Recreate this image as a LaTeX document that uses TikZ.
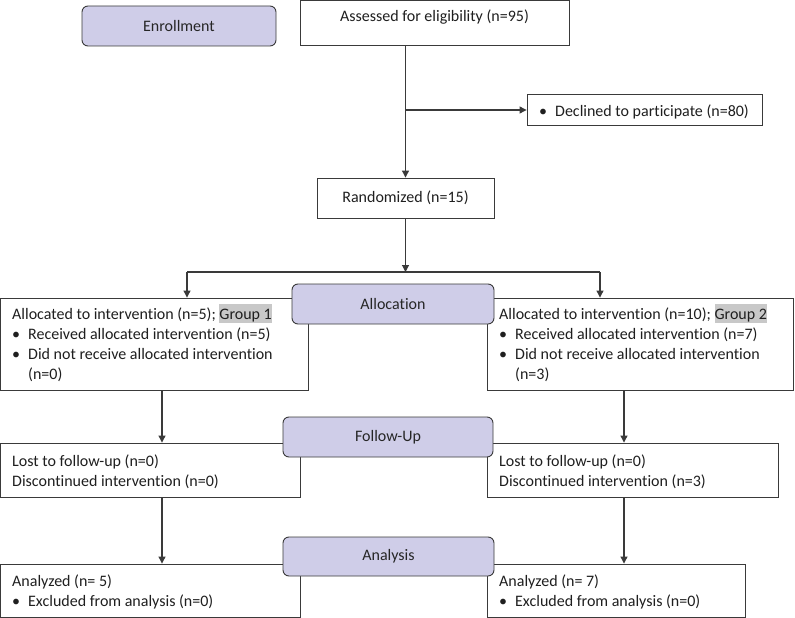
\documentclass[tikz,border=0pt]{standalone}
\usepackage{fontspec}
\setmainfont{Carlito}[Ligatures=NoCommon]
\usepackage{tikz}
\usetikzlibrary{arrows.meta}
\definecolor{stagefill}{HTML}{CFCDE8}
\definecolor{edge}{HTML}{3A3A3A}
\definecolor{hlgray}{HTML}{C8C8C8}
\tikzset{frame/.style={draw=edge,line width=.9pt,inner sep=0pt,fill=white},
         stage/.style={frame,fill=stagefill,rounded corners=6pt,text=black!85},
         conn/.style={-{Triangle[length=7pt,width=7pt]},line width=1.1pt,edge},
         txt/.style={anchor=base west,inner sep=0pt,text=black!88}}
\newcommand\bul{\makebox[16pt][l]{\textbullet}}
\newcommand\grouphl[1]{{\setlength\fboxsep{0pt}\colorbox{hlgray}{\rule[-4pt]{0pt}{19pt}#1}}}

\begin{document}
\begin{tikzpicture}[x=1pt,y=-1pt,font=\fontsize{16}{20.3}\selectfont]
  \useasboundingbox (0,0) rectangle (795,618);
  \node[frame,minimum width=269,minimum height=45] (assess) at (434.5,23) {};
  \node[txt,anchor=base] (assesstxt) at (434.5,22) {Assessed for eligibility (n=95)};
  \node[frame,minimum width=235,minimum height=31] (declined) at (644.5,110) {};
  \node[txt] (declinedtxt) at (539,116) {\bul Declined to participate (n=80)};
  \node[frame,minimum width=177,minimum height=40,text=black!88] (random) at (405.5,198) {Randomized (n=15)};
  \node[frame,minimum width=308,minimum height=92] (grp1) at (154.5,344) {};
  \node[txt] (grp1txt) at (12,319) {\parbox[t]{290pt}{Allocated to intervention (n=5); \grouphl{Group 1}\\
    \bul Received allocated intervention (n=5)\\
    \bul Did not receive allocated intervention\\
    \hspace*{16pt}(n=0)}};
  \node[frame,minimum width=306,minimum height=92] (grp2) at (640,344) {};
  \node[txt] (grp2txt) at (499,319) {\parbox[t]{290pt}{Allocated to intervention (n=10); \grouphl{Group 2}\\
    \bul Received allocated intervention (n=7)\\
    \bul Did not receive allocated intervention\\
    \hspace*{16pt}(n=3)}};
  \node[frame,minimum width=300,minimum height=54] (lost1) at (150.5,470) {};
  \node[txt] (lost1txt) at (12,466) {\parbox[t]{280pt}{Lost to follow-up (n=0)\\
    Discontinued intervention (n=0)}};
  \node[frame,minimum width=291,minimum height=54] (lost2) at (632.5,470) {};
  \node[txt] (lost2txt) at (499,466) {\parbox[t]{280pt}{Lost to follow-up (n=0)\\
    Discontinued intervention (n=3)}};
  \node[frame,minimum width=300,minimum height=53] (anal1) at (150.5,590.5) {};
  \node[txt] (anal1txt) at (12,586) {\parbox[t]{280pt}{Analyzed (n= 5)\\
    \bul Excluded from analysis (n=0)}};
  \node[frame,minimum width=258,minimum height=53] (anal2) at (616,590.5) {};
  \node[txt] (anal2txt) at (499,586) {\parbox[t]{240pt}{Analyzed (n= 7)\\
    \bul Excluded from analysis (n=0)}};
  \coordinate (split) at (405.5,272);
  \coordinate (lft) at (187,272);
  \coordinate (rgt) at (600,272);
  \coordinate (lcol) at (162,0);
  \coordinate (rcol) at (624,0);
  \draw[conn] (random.north |- assess.south) -- (random.north);
  \draw[conn] (random.north |- declined.west) -- (declined.west);
  \draw[conn] (random.south) -- (split);
  \draw[line width=1.1pt,edge] (lft) -- (rgt);
  \draw[conn] (lft) -- (lft |- grp1.north);
  \draw[conn] (rgt) -- (rgt |- grp2.north);
  \draw[conn] (lcol |- grp1.south) -- (lcol |- lost1.north);
  \draw[conn] (lcol |- lost1.south) -- (lcol |- anal1.north);
  \draw[conn] (rcol |- grp2.south) -- (rcol |- lost2.north);
  \draw[conn] (rcol |- lost2.south) -- (rcol |- anal2.north);
  \node[stage,minimum width=194,minimum height=40] (enroll) at (179,26) {Enrollment};
  \node[stage,minimum width=202,minimum height=40] (allocation) at (393,304) {Allocation};
  \node[stage,minimum width=210,minimum height=40] (followup) at (388,437) {Follow-Up};
  \node[stage,minimum width=211,minimum height=39] (analysis) at (388.5,556.5) {Analysis};
\end{tikzpicture}
\end{document}
